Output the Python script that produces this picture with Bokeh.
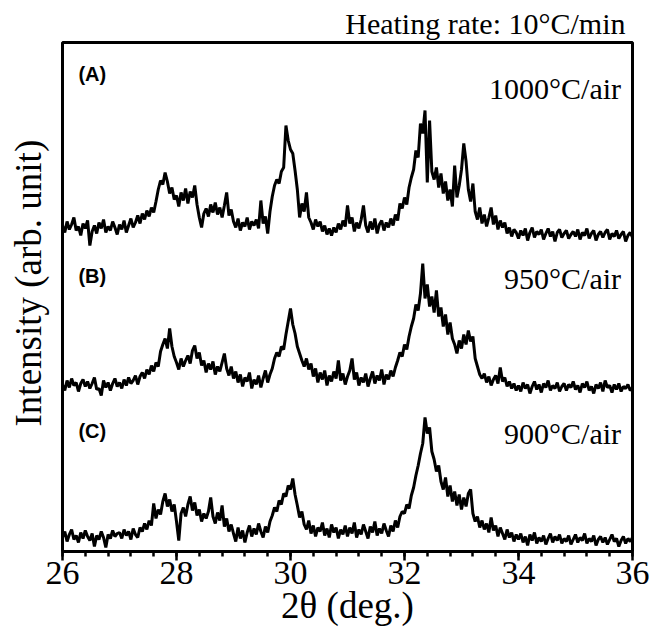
import numpy as np
from bokeh.plotting import figure
from bokeh.models import Range1d, Label, FixedTicker
from bokeh.embed import file_html
from bokeh.resources import INLINE

# 2-theta sampling (deg.), 0.04 deg step
two_theta = np.round(np.linspace(26.0, 36.0, 251), 2)

# (A) 1000 C / air  -- intensity (arb. unit)
int_1000 = [16, 9, 20, 12, 17, 24, 11, 15, 6, 18, 13, 21, -4, 10, 16, 8, 19, 13, 22, 9, 15, 11, 20, 14, 7,
            17, 12, 21, 9, 16, 23, 14, 19, 26, 18, 28, 22, 31, 25, 34, 29, 40, 52, 61, 57, 69, 60, 48, 54, 42,
            46, 35, 49, 41, 53, 38, 50, 44, 56, 37, 24, 14, 28, 33, 25, 37, 29, 39, 27, 34, 24, 36, 49, 26, 32,
            20, 14, 23, 11, 19, 15, 24, 12, 20, 16, 22, 13, 41, 18, 25, 8, 30, 45, 56, 62, 58, 70, 74, 116, 101,
            92, 88, 71, 52, 24, 38, 30, 49, 24, 19, 12, 22, 15, 20, 10, 16, 7, 13, 6, 14, 9, 18, 12, 21, 15,
            36, 18, 24, 10, 19, 13, 22, 36, 16, 9, 20, 12, 23, 8, 17, 21, 11, 19, 14, 23, 16, 27, 21, 38, 33,
            44, 37, 54, 64, 72, 91, 84, 118, 108, 131, 59, 121, 70, 62, 74, 54, 68, 48, 60, 41, 52, 35, 76, 44, 56,
            72, 98, 80, 52, 40, 58, 30, 22, 34, 18, 27, 15, 24, 34, 17, 26, 12, 21, 14, 19, 8, 14, 5, 12, 9,
            3, 11, 6, 13, 1, 9, 14, 4, 10, 7, 12, 2, 8, 13, 5, 10, 0, 9, 12, 4, 8, 11, 3, 7, 10,
            5, 12, 2, 9, 6, 13, 3, 8, 11, 1, 7, 10, 4, 9, 12, 2, 8, 5, 11, 3, 7, 10, 0, 6, 9, 4]

# (B) 950 C / air
int_950 = [12, 6, 16, 9, 18, 11, 14, 5, 13, 17, 10, 15, 8, 13, 19, 7, 8, 1, 16, 9, 14, 6, 13, 18, 10,
           14, 8, 17, 11, 19, 13, 16, 21, 12, 20, 24, 18, 27, 22, 31, 25, 34, 30, 45, 52, 58, 48, 68, 50, 40,
           34, 27, 38, 30, 36, 41, 33, 46, 51, 38, 44, 31, 36, 24, 33, 27, 35, 22, 30, 25, 34, 43, 28, 21, 30,
           18, 25, 14, 22, 10, 19, 15, 24, 8, 17, 12, 21, 9, 18, 26, 14, 22, 28, 38, 44, 40, 50, 47, 62, 75,
           88, 72, 63, 50, 43, 36, 30, 38, 27, 33, 20, 28, 14, 24, 17, 26, 11, 21, 15, 25, 18, 36, 16, 23, 12,
           20, 26, 38, 17, 24, 11, 19, 14, 23, 10, 18, 25, 13, 21, 16, 27, 12, 22, 17, 26, 20, 29, 36, 44, 40,
           52, 47, 60, 70, 78, 92, 86, 103, 133, 98, 112, 90, 100, 84, 106, 80, 89, 70, 82, 62, 74, 58, 52, 43, 56,
           48, 62, 52, 66, 55, 60, 38, 30, 22, 18, 23, 14, 20, 11, 17, 21, 13, 29, 15, 19, 10, 15, 8, 13, 6,
           11, 5, 14, 8, 12, 3, 10, 15, 7, 12, 4, 13, 9, 16, 6, 11, 8, 14, 5, 10, 13, 6, 12, 9, 15,
           7, 11, 4, 13, 9, 15, 6, 10, 3, 12, 8, 14, 5, 16, 9, 11, 4, 12, 7, 13, 5, 10, 8, 12, 6, 9]

# (C) 900 C / air
int_900 = [14, 20, 10, 17, 22, 12, 16, 9, 19, 13, 21, 15, 11, 18, 5, 16, 12, 20, 14, 4, 17, 13, 21, 15, 18,
           19, 13, 22, 16, 20, 12, 23, 17, 14, 24, 20, 28, 22, 31, 26, 48, 33, 42, 37, 50, 58, 45, 52, 40, 47,
           30, 11, 38, 44, 35, 47, 55, 41, 49, 36, 42, 30, 38, 33, 40, 54, 35, 28, 39, 31, 46, 25, 33, 20, 27,
           18, 10, 24, 13, 21, 9, 19, 26, 15, 23, 17, 28, 20, 14, 25, 19, 30, 36, 44, 40, 51, 47, 58, 55, 66,
           62, 73, 57, 46, 34, 40, 27, 22, 31, 18, 26, 15, 24, 20, 29, 16, 23, 14, 27, 19, 24, 13, 22, 17, 26,
           15, 24, 18, 29, 14, 22, 17, 27, 20, 13, 25, 19, 30, 16, 23, 18, 28, 21, 15, 26, 20, 31, 24, 35, 40,
           38, 47, 43, 56, 64, 76, 86, 98, 108, 134, 118, 124, 100, 92, 80, 86, 70, 62, 74, 55, 66, 50, 60, 46, 57,
           42, 54, 45, 58, 62, 38, 30, 35, 24, 31, 22, 28, 19, 34, 21, 26, 15, 24, 18, 12, 22, 14, 19, 10, 17,
           12, 18, 9, 15, 6, 17, 11, 19, 8, 14, 10, 16, 7, 13, 18, 9, 15, 11, 17, 8, 13, 10, 16, 7, 12,
           17, 9, 14, 11, 18, 8, 13, 10, 16, 6, 12, 15, 9, 14, 7, 12, 17, 10, 13, 5, 11, 15, 8, 13, 10, 14]

series = [int_1000, int_950, int_900]
offsets = [310, 155, 0]                      # vertical stacking offsets
sample_labels = ["(A)", "(B)", "(C)"]
temp_labels = ["1000°C/air", "950°C/air", "900°C/air"]
x_ticks = [26, 28, 30, 32, 34, 36]
x_minor = [round(26 + 0.4 * i, 1) for i in range(26)]

for s in series:
    assert len(s) == len(two_theta), len(s)

serif = "Liberation Serif"

p = figure(width=652, height=631, x_range=Range1d(26, 36), y_range=Range1d(0, 509),
           output_backend="svg", toolbar_location=None,
           min_border_left=62, min_border_right=20, min_border_top=42, min_border_bottom=80,
           title="Heating rate: 10°C/min")

p.title.align = "right"
p.title.text_font = serif
p.title.text_font_size = "30px"
p.title.text_font_style = "normal"
p.title.text_color = "black"
p.title.standoff = 6
p.title.offset = 7

p.background_fill_color = "white"
p.border_fill_color = "white"
p.outline_line_color = "black"
p.outline_line_width = 3
p.outline_line_alpha = 1.0
p.xgrid.visible = False
p.ygrid.visible = False

ay = p.yaxis[0]
ay.ticker = FixedTicker(ticks=[])
ay.axis_line_color = None
ay.major_tick_line_color = None
ay.minor_tick_line_color = None
ay.major_label_standoff = 0
# leading no-break spaces nudge the centred label upward, as in the original
ay.axis_label = "\u00a0\u00a0\u00a0Intensity (arb. unit)"
ay.axis_label_text_font = serif
ay.axis_label_text_font_size = "37px"
ay.axis_label_text_font_style = "normal"
ay.axis_label_text_color = "black"
ay.axis_label_standoff = 14

ax = p.xaxis[0]
ax.ticker = FixedTicker(ticks=x_ticks, minor_ticks=x_minor)
ax.axis_line_width = 3
ax.axis_line_color = "black"
ax.major_tick_in = 0
ax.major_tick_out = 9
ax.minor_tick_in = 0
ax.minor_tick_out = 5
ax.major_tick_line_width = 2.5
ax.minor_tick_line_width = 2.5
ax.major_tick_line_color = "black"
ax.minor_tick_line_color = "black"
ax.major_label_text_font = serif
ax.major_label_text_font_size = "34px"
ax.major_label_text_color = "black"
ax.major_label_standoff = 1
ax.axis_label = "2θ (deg.)"
ax.axis_label_text_font = serif
ax.axis_label_text_font_size = "37px"
ax.axis_label_text_font_style = "normal"
ax.axis_label_text_color = "black"
ax.axis_label_standoff = -2

for s, off in zip(series, offsets):
    p.line(two_theta, np.array(s) + off, line_color="black", line_width=3)

label_y = [478, 276, 121]
temp_y = [463, 273, 118]
for lab, ly, t, ty in zip(sample_labels, label_y, temp_labels, temp_y):
    p.add_layout(Label(x=26.28, y=ly, text=lab, text_align="left", text_baseline="middle",
                       text_font="Liberation Sans", text_font_style="bold",
                       text_font_size="20px", text_color="black"))
    p.add_layout(Label(x=35.8, y=ty, text=t, text_align="right", text_baseline="alphabetic",
                       text_font=serif, text_font_size="30px", text_color="black"))

open("out.html", "w").write(file_html(p, INLINE))
